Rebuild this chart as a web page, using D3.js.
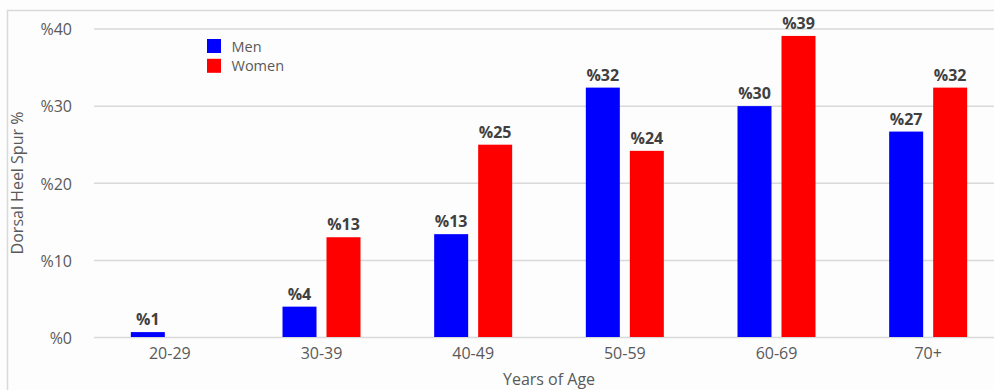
<!DOCTYPE html>
<html>
<head>
<meta charset="utf-8">
<script src="https://cdn.jsdelivr.net/npm/d3@7"></script>
<style>
  html, body { margin: 0; padding: 0; background: #fdfdfd; }
  svg { display: block; }
  text { font-family: "Open Sans", sans-serif; }
</style>
</head>
<body>
<svg id="chart" width="994" height="390"></svg>
<script>
// Age groups and share of people with a dorsal heel spur (%)
const ageGroups = ["20-29", "30-39", "40-49", "50-59", "60-69", "70+"];
const seriesNames = ["Men", "Women"];
const menValues = [0.7, 4.0, 13.4, 32.4, 30.0, 26.7];
const womenValues = [0, 13.0, 25.0, 24.2, 39.1, 32.4];
const yTicks = [0, 10, 20, 30, 40];
const seriesColors = ["#0000ff", "#ff0000"];

const svg = d3.select("#chart");
const W = 994, H = 390;

// Frame of the chart area
svg.append("line").attr("x1", 7.5).attr("x2", 7.5).attr("y1", 10).attr("y2", H)
  .attr("stroke", "#d9d9d9").attr("stroke-width", 1.5);
svg.append("line").attr("x1", 7).attr("x2", W).attr("y1", 10.5).attr("y2", 10.5)
  .attr("stroke", "#d9d9d9").attr("stroke-width", 1.5);

const x0 = d3.scaleBand().domain(ageGroups).range([94, 1004]).padding(0);
const groupWidth = 78;
const x1 = d3.scaleBand().domain(seriesNames).range([0, groupWidth]).paddingInner(0.2273).paddingOuter(0);
const y = d3.scaleLinear().domain([0, 40]).range([337.5, 29]);
const color = d3.scaleOrdinal().domain(seriesNames).range(seriesColors);

// Value axis labels
const yAxis = d3.axisLeft(y).tickValues(yTicks).tickSize(0).tickPadding(0).tickFormat(d => "%" + d);
const gy = svg.append("g").attr("transform", "translate(72,0)").call(yAxis);
gy.select(".domain").remove();
gy.selectAll("text").attr("font-size", 16).attr("fill", "#595959")
  .attr("font-family", "Open Sans, sans-serif").attr("dy", "0.36em");

// Horizontal gridlines
svg.append("g").selectAll("line").data(yTicks).join("line")
  .attr("x1", 94).attr("x2", W)
  .attr("y1", d => y(d)).attr("y2", d => y(d))
  .attr("stroke", "#d9d9d9").attr("stroke-width", 1.5);

// Bars
const rows = ageGroups.map((g, i) => ({
  group: g,
  items: [
    { name: "Men", value: menValues[i] },
    { name: "Women", value: womenValues[i] }
  ]
}));

const groups = svg.append("g").selectAll("g").data(rows).join("g")
  .attr("transform", d => `translate(${x0(d.group) + x0.bandwidth() / 2 - groupWidth / 2},0)`);

groups.selectAll("rect").data(d => d.items.filter(it => it.value > 0)).join("rect")
  .attr("x", d => x1(d.name))
  .attr("width", x1.bandwidth())
  .attr("y", d => y(d.value))
  .attr("height", d => y(0) - y(d.value) - 0.5)
  .attr("fill", d => color(d.name));

groups.selectAll("text.val").data(d => d.items.filter(it => it.value > 0)).join("text")
  .attr("class", "val")
  .attr("x", d => x1(d.name) + x1.bandwidth() / 2)
  .attr("y", d => y(d.value) - 7)
  .attr("text-anchor", "middle")
  .attr("font-size", 16).attr("font-weight", "bold").attr("fill", "#404040")
  .text(d => "%" + d3.format(".0f")(d.value));

// Category axis labels
const xAxis = d3.axisBottom(x0).tickSize(0).tickPadding(0);
const gx = svg.append("g").attr("transform", "translate(0,359)").call(xAxis);
gx.select(".domain").remove();
gx.selectAll("text").attr("font-size", 16).attr("fill", "#595959")
  .attr("font-family", "Open Sans, sans-serif").attr("dy", "0");

// Axis titles
svg.append("text")
  .attr("x", 549).attr("y", 385)
  .attr("text-anchor", "middle").attr("font-size", 16).attr("fill", "#595959")
  .text("Years of Age");

svg.append("text")
  .attr("transform", "translate(23,183) rotate(-90)")
  .attr("text-anchor", "middle").attr("font-size", 16).attr("fill", "#595959")
  .text("Dorsal Heel Spur %");

// Legend
const legend = svg.append("g").selectAll("g").data(seriesNames).join("g")
  .attr("transform", (d, i) => `translate(207,${39 + i * 19.8})`);
legend.append("rect").attr("width", 14).attr("height", 14).attr("fill", d => color(d));
legend.append("text").attr("x", 24.5).attr("y", 12.5).attr("font-size", 14.5)
  .attr("fill", "#595959").text(d => d);
</script>
</body>
</html>
